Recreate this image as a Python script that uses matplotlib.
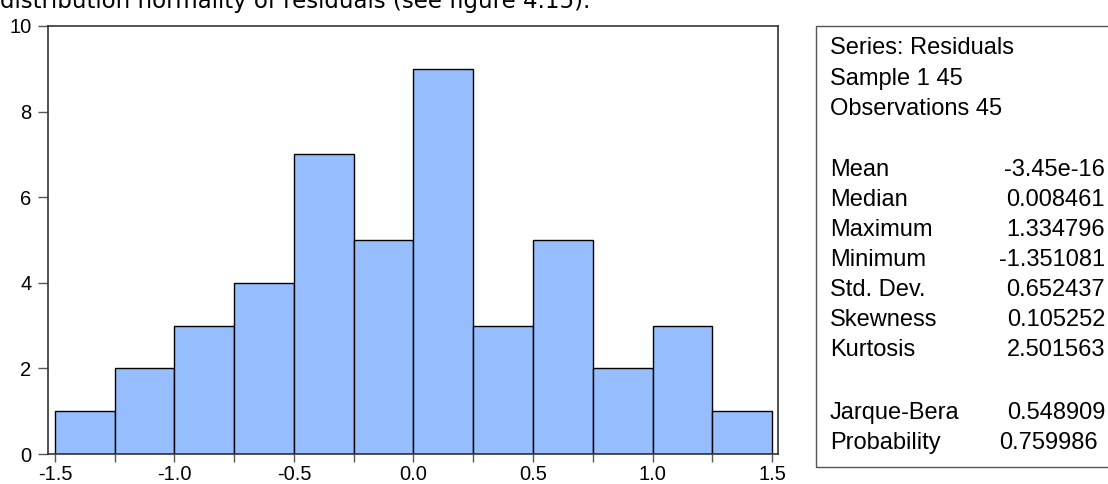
import numpy as np
import matplotlib.pyplot as plt
from matplotlib.patches import Rectangle

# histogram of residuals, bin width 0.25
bin_edges = [-1.5, -1.25, -1.0, -0.75, -0.5, -0.25, 0.0, 0.25, 0.5, 0.75, 1.0, 1.25, 1.5]
counts = [1, 2, 3, 4, 7, 5, 9, 3, 5, 2, 3, 1]

xticks = [-1.5, -1.0, -0.5, 0.0, 0.5, 1.0, 1.5]
xtick_labels = ["-1.5", "-1.0", "-0.5", "0.0", "0.5", "1.0", "1.5"]
yticks = [0, 2, 4, 6, 8, 10]

header = ["Series: Residuals", "Sample 1 45", "Observations 45"]
stat_names = ["Mean", "Median", "Maximum", "Minimum", "Std. Dev.", "Skewness", "Kurtosis"]
stat_values = ["-3.45e-16", "0.008461", "1.334796", "-1.351081", "0.652437", "0.105252", "2.501563"]
test_names = ["Jarque-Bera", "Probability"]
test_values = ["0.548909", "0.759986"]

plt.rcParams['font.family'] = ['Liberation Sans', 'DejaVu Sans']

W, H = 1108, 484
fig = plt.figure(figsize=(W / 100, H / 100), dpi=100)

# partially visible caption line above the chart
fig.text(0 / W, 1 - 8 / H, "distribution normality of residuals (see figure 4.15).",
         fontsize=16.5, family=['Verdana', 'DejaVu Sans'], va='baseline', ha='left', color='black')

ax = fig.add_axes([48 / W, 1 - 454 / H, (778 - 48) / W, (454 - 26) / H])
edges = np.array(bin_edges)
ax.bar(edges[:-1], counts, width=np.diff(edges), align='edge',
       color='#96befe', edgecolor='black', linewidth=1.0)

ax.set_xlim(-1.529, 1.525)
ax.set_ylim(0, 10)
ax.set_xticks(xticks)
ax.set_xticklabels(xtick_labels)
ax.set_xticks(np.arange(-1.25, 1.5, 0.5), minor=True)
ax.set_yticks(yticks)
ax.tick_params(axis='y', which='major', direction='out', length=7, width=1,
               color='#555555', labelsize=14.5, pad=5)
ax.tick_params(axis='x', which='both', direction='out', length=6, width=1,
               color='#555555', labelsize=14.5, pad=2)
for s in ax.spines.values():
    s.set_color('#333333')
    s.set_linewidth(1.2)

# statistics box
fig.patches.append(Rectangle((816 / W, 1 - 467 / H), (1115 - 816) / W, (467 - 26) / H,
                             transform=fig.transFigure, fill=False,
                             edgecolor='#555555', linewidth=1.0))

lx = 830 / W
rx = 1105 / W
fs = 17
y = 48
for t in header:
    fig.text(lx, 1 - y / H, t, fontsize=fs, va='center', ha='left')
    y += 30.5
y = 170
for n, v in zip(stat_names, stat_values):
    fig.text(lx, 1 - y / H, n, fontsize=fs, va='center', ha='left')
    fig.text(rx, 1 - y / H, v, fontsize=fs, va='center', ha='right')
    y += 30
y = 413
for i, (n, v) in enumerate(zip(test_names, test_values)):
    fig.text(lx, 1 - y / H, n, fontsize=fs, va='center', ha='left')
    vx = rx if i == 0 else 1098 / W
    fig.text(vx, 1 - y / H, v, fontsize=fs, va='center', ha='right')
    y += 30

fig.savefig("out.png", dpi=100)
